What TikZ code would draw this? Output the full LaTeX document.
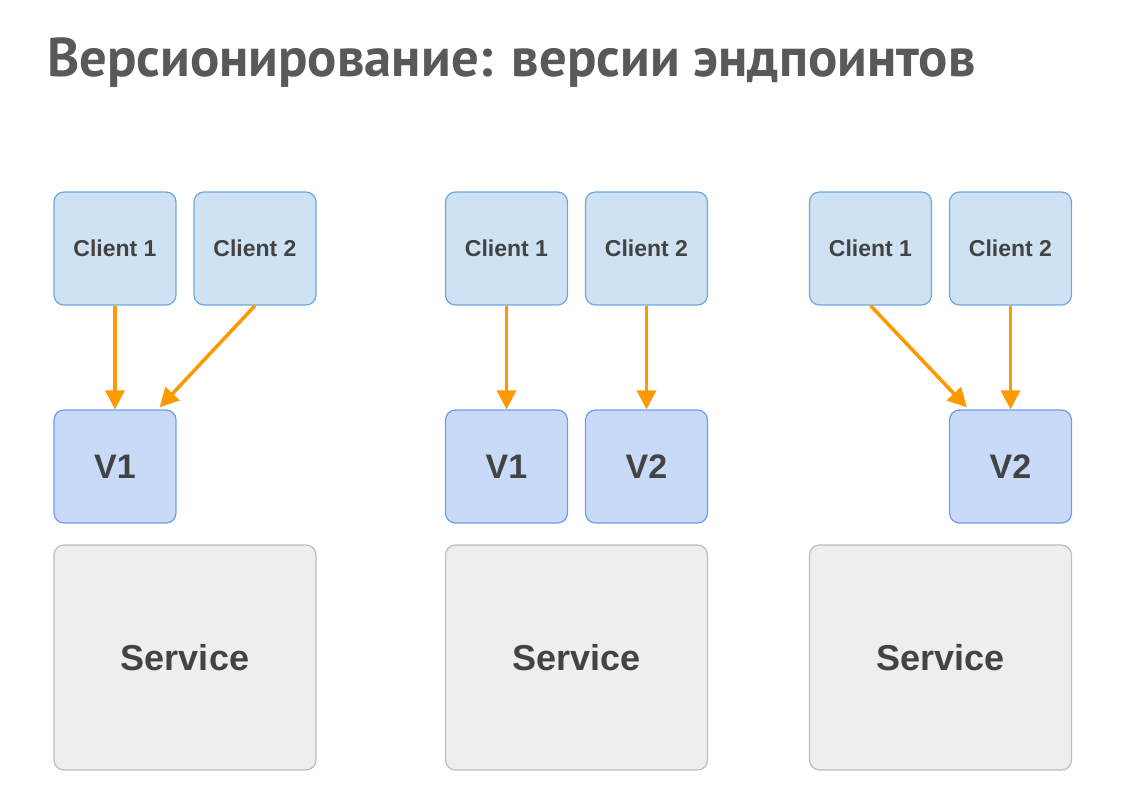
\documentclass[tikz,border=0pt]{standalone}
\usepackage{fontspec}
\setmainfont{Liberation Sans}
\newfontfamily\titlefont{PT Sans}
\usepackage{xcolor}
\usepackage{tikz}
\usetikzlibrary{arrows.meta}

\definecolor{txt}{HTML}{434343}
\definecolor{ttl}{HTML}{595959}
\definecolor{clfill}{HTML}{CFE2F3}
\definecolor{cldraw}{HTML}{6FA8DC}
\definecolor{vfill}{HTML}{C9DAF8}
\definecolor{vdraw}{HTML}{6D9EEB}
\definecolor{svfill}{HTML}{EEEEEE}
\definecolor{svdraw}{HTML}{BDBDBD}
\definecolor{arr}{HTML}{FF9900}

\begin{document}
\begin{tikzpicture}[x=1pt, y=-1pt,
  box/.style={rounded corners=10pt, line width=1.2pt, inner sep=0pt,
    minimum width=122pt, minimum height=113pt, text=txt, font=\bfseries},
  client/.style={box, fill=clfill, draw=cldraw, font=\bfseries\fontsize{23}{27}\selectfont},
  ver/.style={box, fill=vfill, draw=vdraw, font=\bfseries\fontsize{34}{40}\selectfont},
  svc/.style={box, fill=svfill, draw=svdraw, minimum width=262pt, minimum height=225pt,
    font=\bfseries\fontsize{36}{42}\selectfont},
  call/.style={draw=arr, line width=3.5pt, -{Triangle[length=19pt, width=19pt]}}]

\useasboundingbox (0,0) rectangle (1148,805);

% Заголовок
\node[anchor=base west, inner sep=0pt, text=ttl,
  font=\titlefont\bfseries\fontsize{54.6}{60}\selectfont] (title) at (47,77)
  {Версионирование: версии эндпоинтов};

% Одна версия
\node[client] (c1a) at (115,248.5) {Client 1};
\node[client] (c2a) at (255,248.5) {Client 2};
\node[ver] (v1a) at (115,466.5) {V1};
\node[svc] (sa) at (185,657.5) {Service};

\draw[call] (c1a) -- (v1a);
\draw[call] (c2a.south) -- ([xshift=-17pt, yshift=2pt]v1a.north east);

% Две версии
\node[client] (c1b) at (506.5,248.5) {Client 1};
\node[client] (c2b) at (646.5,248.5) {Client 2};
\node[ver] (v1b) at (506.5,466.5) {V1};
\node[ver] (v2b) at (646.5,466.5) {V2};
\node[svc] (sb) at (576.5,657.5) {Service};

\draw[call] (c1b) -- (v1b);
\draw[call] (c2b) -- (v2b);

% Только V2
\node[client] (c1c) at (870.5,248.5) {Client 1};
\node[client] (c2c) at (1010.5,248.5) {Client 2};
\node[ver] (v2c) at (1010.5,466.5) {V2};
\node[svc] (sc) at (940.5,657.5) {Service};

\draw[call] (c1c.south) -- ([xshift=18pt, yshift=2pt]v2c.north west);
\draw[call] (c2c) -- (v2c);

\end{tikzpicture}
\end{document}
